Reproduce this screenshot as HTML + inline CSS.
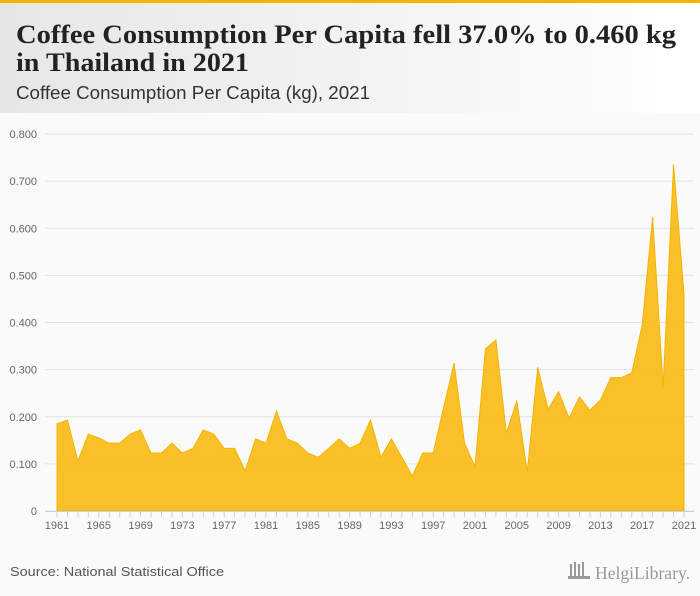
<!DOCTYPE html>
<html><head><meta charset="utf-8"><style>
html,body{margin:0;padding:0;width:700px;height:596px;overflow:hidden;background:#fafafa;font-family:"Liberation Sans",sans-serif}
</style></head><body>
<svg id="chart" width="700" height="596" xmlns="http://www.w3.org/2000/svg">
<defs><linearGradient id="hg" x1="0" x2="1"><stop offset="0" stop-color="#e6e6e6"/><stop offset="1" stop-color="#ffffff"/></linearGradient></defs>
<rect x="0" y="0" width="700" height="596" fill="#fafafa"/>
<rect x="0" y="0" width="700" height="113" fill="url(#hg)"/>
<rect x="0" y="0" width="700" height="3" fill="#f5b400"/>
<text x="16" y="43" font-family="Liberation Serif, serif" font-weight="bold" font-size="26" fill="#222" textLength="660" lengthAdjust="spacingAndGlyphs">Coffee Consumption Per Capita fell 37.0% to 0.460 kg</text>
<text x="16" y="71" font-family="Liberation Serif, serif" font-weight="bold" font-size="26" fill="#222" textLength="233" lengthAdjust="spacingAndGlyphs">in Thailand in 2021</text>
<text x="16" y="99" font-size="18" fill="#333" textLength="354" lengthAdjust="spacingAndGlyphs">Coffee Consumption Per Capita (kg), 2021</text>
<g id="grid"></g><g id="area"></g><g id="xaxis"></g>
<text x="10" y="576" font-size="13" fill="#555" textLength="214" lengthAdjust="spacingAndGlyphs">Source: National Statistical Office</text>
<g>
<rect x="570" y="564" width="2" height="12" fill="#999"/><rect x="574" y="562" width="2" height="14" fill="#999"/><rect x="578" y="564" width="2" height="12" fill="#999"/><rect x="582" y="562" width="2" height="14" fill="#999"/><rect x="568" y="576" width="22" height="3" fill="#999"/>
<text x="595" y="579" font-family="Liberation Serif, serif" font-size="18" fill="#999" textLength="95" lengthAdjust="spacingAndGlyphs">HelgiLibrary.</text></g>
</svg>
<script>
const years=[];for(let y=1961;y<=2021;y++)years.push(y);
const values=[0.185,0.193,0.106,0.163,0.155,0.144,0.144,0.163,0.172,0.123,0.123,0.144,0.123,0.133,0.172,0.163,0.133,0.133,0.085,0.153,0.144,0.212,0.153,0.144,0.123,0.114,0.133,0.153,0.133,0.144,0.193,0.114,0.153,0.114,0.074,0.123,0.123,0.220,0.314,0.144,0.094,0.344,0.363,0.165,0.234,0.083,0.305,0.216,0.253,0.197,0.242,0.214,0.235,0.283,0.283,0.293,0.395,0.624,0.263,0.735,0.460];
const yTicks=[0,0.1,0.2,0.3,0.4,0.5,0.6,0.7,0.8];
const xLabels=[1961,1965,1969,1973,1977,1981,1985,1989,1993,1997,2001,2005,2009,2013,2017,2021];
const NS="http://www.w3.org/2000/svg";
const X=y=>57+(y-1961)*(684-57)/60;
const Y=v=>511-v*(511-134)/0.8;
function mk(t,a,p){const e=document.createElementNS(NS,t);for(const k in a)e.setAttribute(k,a[k]);p.appendChild(e);return e;}
const grid=document.getElementById('grid');
yTicks.forEach(v=>{
 const l=mk('line',{x1:45,x2:694,y1:Y(v),y2:Y(v),stroke:'#e3e3e3','stroke-width':1},grid);
 
 
 const t=mk('text',{x:37,y:Y(v)+4,'text-anchor':'end','font-size':11,fill:'#666'},grid);
 
 
 t.textContent=v===0?'0':v.toFixed(3);
});
let d='M'+X(years[0])+','+Y(0);
years.forEach((y,i)=>{d+=' L'+X(y)+','+Y(values[i]);});
d+=' L'+X(years[years.length-1])+','+Y(0)+' Z';
const p=mk('path',{d:d,fill:'#f9b913',stroke:'#f5b400','stroke-width':1,'fill-opacity':0.9},document.getElementById('area'));


const xa=document.getElementById('xaxis');
const al=mk('line',{x1:45,x2:694,y1:511.5,y2:511.5,stroke:'#c6d0e6','stroke-width':1},xa);


years.forEach(y=>{const t=mk('line',{x1:X(y),x2:X(y),y1:511,y2:517,stroke:'#c6d0e6'},xa);
 
 });
xLabels.forEach(y=>{const t=mk('text',{x:X(y),y:529,'text-anchor':'middle','font-size':11,fill:'#666'},xa);
 
 
 t.textContent=y;});
</script>
</body></html>
